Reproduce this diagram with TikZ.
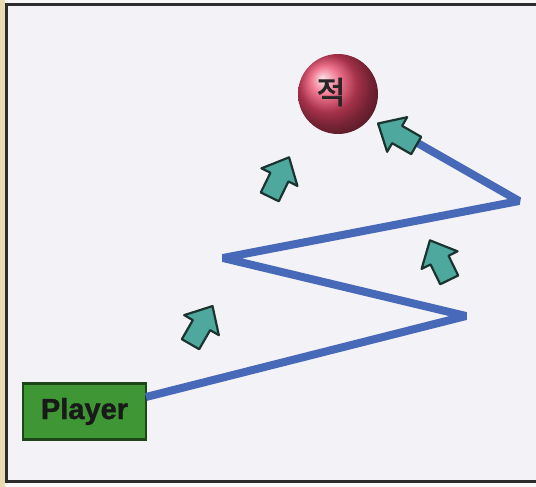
\documentclass[tikz,border=0pt]{standalone}
\usepackage{fontspec}
\setmainfont{Liberation Sans}
\newfontfamily\krfont[FakeBold=3]{Noto Sans CJK KR}
\newfontfamily\plfont[BoldFeatures={FakeBold=1.2}]{Liberation Sans}
\definecolor{bgpaper}{RGB}{243,243,247}
\definecolor{beige}{RGB}{232,220,176}
\definecolor{framecol}{RGB}{45,45,45}
\definecolor{pathblue}{RGB}{72,104,184}
\definecolor{teal}{RGB}{78,168,158}
\definecolor{tealdark}{RGB}{28,52,48}
\definecolor{boxgreen}{RGB}{62,150,52}
\definecolor{boxdark}{RGB}{28,70,24}
\definecolor{enemyred}{RGB}{235,70,105}
\tikzset{
  zigzag/.style={draw=pathblue, line width=8pt, line join=miter, miter limit=2},
  playerbox/.style={rectangle, fill=boxgreen, draw=boxdark, line width=2.2pt,
    minimum width=123pt, minimum height=56pt, inner sep=0pt,
    font=\plfont\fontsize{29}{29}\selectfont\bfseries, text=black!90},
  enemyball/.style={circle, minimum size=80pt, inner sep=0pt, shading=ball, ball color=enemyred},
  enemytext/.style={font=\krfont\fontsize{31}{31}\selectfont, text=black!85, inner sep=0pt},
  barrow/.pic={\draw[draw=tealdark, fill=teal, line width=2.2pt, line join=round]
     (-21,-10) -- (1,-10) -- (1,-20) -- (23,0) -- (1,20) -- (1,10) -- (-21,10) -- cycle;}
}
\begin{document}
\begin{tikzpicture}[x=1pt,y=-1pt]
\useasboundingbox (0,0) rectangle (536,487);
\fill[white!95!gray] (0,0) rectangle (536,487);
\fill[beige] (0,0) rectangle (5,487);
\fill[bgpaper] (6,5) rectangle (536,481);
\draw[framecol, line width=3pt] (6,482) -- (6,4.5) -- (536,4.5);
\draw[framecol, line width=3pt] (4.5,481.5) -- (536,481.5);

\node[playerbox] (player) at (84.5,411.5) {Player};
\node[enemyball] (enemy) at (338,94) {};
\node[enemytext] (enemylabel) at (331,92) {적};

\coordinate (p0) at (146,397);
\coordinate (v1) at (466,316);
\coordinate (v2) at (223,258);
\coordinate (v3) at (519,201);
\coordinate (p4) at (414,141);
\draw[zigzag] (p0) -- (v1) -- (v2) -- (v3) -- (p4);

\pic[rotate=60] at (201,326) {barrow};
\pic[rotate=64] at (279,178) {barrow};
\pic[rotate=116] at (440,261) {barrow};
\pic[rotate=150] at (398,135) {barrow};
\end{tikzpicture}
\end{document}
